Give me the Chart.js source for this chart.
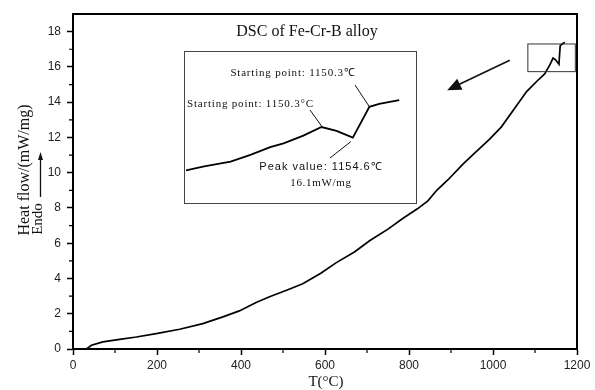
<!DOCTYPE html>
<html>
<head>
<meta charset="utf-8">
<script src="https://cdn.jsdelivr.net/npm/chart.js@4"></script>
<style>
  body { margin: 0; background: #fff; }
  #wrap { position: relative; width: 595px; height: 390px; }
  #inset {
    position: absolute; left: 184px; top: 51px;
    width: 233px; height: 153px;
    box-sizing: border-box; border: 1px solid #444; background: #fff;
  }
  #inset canvas { display: block; }
</style>
</head>
<body>
<div id="wrap">
  <canvas id="dscChart" width="595" height="390"></canvas>
  <div id="inset"><canvas id="insetChart" width="231" height="151"></canvas></div>
</div>
<script>
// main DSC curve
const temps = [32, 44, 71, 111, 151, 198, 254, 309, 357, 396, 436, 468, 510, 547, 590, 627, 670, 707, 750, 785, 820, 845, 866, 893, 929, 960, 992, 1020, 1050, 1080, 1105, 1123, 1135, 1143, 1149, 1157, 1160, 1165, 1171];
const heatFlow = [0, 0.21, 0.4, 0.55, 0.68, 0.87, 1.12, 1.44, 1.82, 2.16, 2.64, 2.96, 3.35, 3.7, 4.3, 4.9, 5.5, 6.15, 6.8, 7.4, 7.95, 8.4, 9.0, 9.6, 10.5, 11.2, 11.9, 12.6, 13.6, 14.6, 15.2, 15.6, 16.1, 16.5, 16.4, 16.15, 17.2, 17.3, 17.4];

// magnified part shown in the inset
const insetTemps = [1083.5, 1092.4, 1105.3, 1115, 1124.7, 1131.2, 1140.9, 1149.8, 1157.1, 1165.1, 1173.2, 1178, 1187.8];
const insetFlow = [16.07, 16.11, 16.16, 16.23, 16.31, 16.35, 16.43, 16.52, 16.48, 16.41, 16.73, 16.76, 16.80];

// zoom window (data units), also the inset's axis ranges
const zoomT = [1083, 1196];
const zoomY = [15.73, 17.3];

const xTicks = [0, 200, 400, 600, 800, 1000, 1200];
const yTicks = [0, 2, 4, 6, 8, 10, 12, 14, 16, 18];

const serif = '"Liberation Serif", "Times New Roman", serif';
const sans = '"Liberation Sans", Arial, sans-serif';

function arrowHead(ctx, x1, y1, x2, y2, len, half) {
  const a = Math.atan2(y2 - y1, x2 - x1);
  ctx.beginPath();
  ctx.moveTo(x2, y2);
  ctx.lineTo(x2 - len * Math.cos(a) + half * Math.sin(a), y2 - len * Math.sin(a) - half * Math.cos(a));
  ctx.lineTo(x2 - len * Math.cos(a) - half * Math.sin(a), y2 - len * Math.sin(a) + half * Math.cos(a));
  ctx.closePath();
  ctx.fill();
}

const mainDecor = {
  id: 'mainDecor',
  afterDraw(chart) {
    const { ctx, chartArea: a, scales: { x, y } } = chart;
    ctx.save();
    ctx.strokeStyle = '#000';
    ctx.fillStyle = '#000';

    // top + right frame
    ctx.lineWidth = 2;
    ctx.beginPath();
    ctx.moveTo(a.left, a.top);
    ctx.lineTo(a.right, a.top);
    ctx.lineTo(a.right, a.bottom);
    ctx.stroke();

    // minor ticks
    ctx.lineWidth = 1.2;
    ctx.beginPath();
    for (let v = 100; v < 1200; v += 200) {
      const px = x.getPixelForValue(v);
      ctx.moveTo(px, a.bottom);
      ctx.lineTo(px, a.bottom + 4);
    }
    for (let v = 1; v < 19; v += 2) {
      const py = y.getPixelForValue(v);
      ctx.moveTo(a.left, py);
      ctx.lineTo(a.left - 4, py);
    }
    ctx.stroke();

    // zoom window rectangle
    ctx.lineWidth = 1;
    ctx.strokeStyle = '#333';
    const rx = x.getPixelForValue(zoomT[0]), ry = y.getPixelForValue(zoomY[1]);
    ctx.strokeRect(rx, ry, x.getPixelForValue(zoomT[1]) - rx, y.getPixelForValue(zoomY[0]) - ry);

    // arrow pointing to the inset
    ctx.strokeStyle = '#111';
    ctx.fillStyle = '#111';
    ctx.lineWidth = 1.6;
    const ax1 = x.getPixelForValue(1040), ay1 = y.getPixelForValue(16.38);
    const ax2 = x.getPixelForValue(891), ay2 = y.getPixelForValue(14.67);
    ctx.beginPath();
    ctx.moveTo(ax1, ay1);
    ctx.lineTo(ax2 + 8, ay2 - 4);
    ctx.stroke();
    arrowHead(ctx, ax1, ay1, ax2, ay2, 14, 6);

    // titles
    ctx.fillStyle = '#111';
    ctx.textAlign = 'center';
    ctx.textBaseline = 'middle';
    ctx.font = '16px ' + serif;
    ctx.fillText('DSC of Fe-Cr-B alloy', 307, 32);
    ctx.font = '15px ' + serif;
    ctx.fillText('T(°C)', 326, 382);

    ctx.save();
    ctx.translate(25, 170);
    ctx.rotate(-Math.PI / 2);
    ctx.font = '16px ' + serif;
    ctx.fillText('Heat flow/(mW/mg)', 0, 0);
    ctx.restore();
    ctx.save();
    ctx.translate(38, 219);
    ctx.rotate(-Math.PI / 2);
    ctx.font = '15px ' + serif;
    ctx.fillText('Endo', 0, 0);
    ctx.restore();

    // endo arrow
    ctx.lineWidth = 1.3;
    ctx.beginPath();
    ctx.moveTo(40.5, 197);
    ctx.lineTo(40.5, 158);
    ctx.stroke();
    arrowHead(ctx, 40.5, 197, 40.5, 152, 8, 2.5);
    ctx.restore();
  }
};

new Chart(document.getElementById('dscChart'), {
  type: 'line',
  data: {
    datasets: [{
      data: temps.map((t, i) => ({ x: t, y: heatFlow[i] })),
      borderColor: '#000',
      borderWidth: 1.7,
      pointRadius: 0,
      tension: 0,
      fill: false
    }]
  },
  options: {
    responsive: false,
    animation: false,
    layout: { padding: { top: 14, right: 18, left: 0, bottom: 0 } },
    plugins: { legend: { display: false }, tooltip: { enabled: false } },
    scales: {
      x: {
        type: 'linear', min: 0, max: 1200,
        afterBuildTicks: s => { s.ticks = xTicks.map(v => ({ value: v })); },
        afterFit: s => { s.height = 41; },
        ticks: { color: '#222', font: { family: sans, size: 12 }, padding: 3, maxRotation: 0, callback: v => String(v) },
        grid: { drawOnChartArea: false, tickLength: 6, tickWidth: 1.5, color: '#000' },
        border: { color: '#000', width: 2 }
      },
      y: {
        type: 'linear', min: 0, max: 19,
        afterBuildTicks: s => { s.ticks = yTicks.map(v => ({ value: v })); },
        afterFit: s => { s.width = 73; },
        ticks: { color: '#222', font: { family: sans, size: 12 }, padding: 6, callback: v => String(v) },
        grid: { drawOnChartArea: false, tickLength: 6, tickWidth: 1.5, color: '#000' },
        border: { color: '#000', width: 2 }
      }
    }
  },
  plugins: [mainDecor]
});

function spacedText(ctx, text, x, y, spacing) {
  ctx.letterSpacing = spacing + 'px';
  ctx.fillText(text, x, y);
  ctx.letterSpacing = '0px';
}

const insetDecor = {
  id: 'insetDecor',
  afterDraw(chart) {
    const { ctx, scales: { x, y } } = chart;
    ctx.save();
    ctx.fillStyle = '#111';
    ctx.strokeStyle = '#111';
    ctx.textBaseline = 'middle';

    ctx.font = '11px ' + serif;
    ctx.textAlign = 'center';
    spacedText(ctx, 'Starting point: 1150.3℃', 108, 21, 0.8);
    ctx.textAlign = 'left';
    spacedText(ctx, 'Starting point: 1150.3°C', 2, 52, 0.8);
    ctx.textAlign = 'center';
    ctx.font = '11px ' + sans;
    spacedText(ctx, 'Peak value: 1154.6℃', 136, 115, 1);
    ctx.font = '11px ' + serif;
    spacedText(ctx, '16.1mW/mg', 136, 131, 0.7);

    // leader lines to the curve
    ctx.lineWidth = 1;
    const lead = (x0, y0, t, v, dx, dy) => {
      ctx.beginPath();
      ctx.moveTo(x0, y0);
      ctx.lineTo(x.getPixelForValue(t) + dx, y.getPixelForValue(v) + dy);
      ctx.stroke();
    };
    lead(170, 33, 1173.2, 16.73, 0, 0);
    lead(125, 58, 1149.8, 16.52, 0, -1);
    lead(145, 106, 1165.1, 16.41, -2, 4);
    ctx.restore();
  }
};

new Chart(document.getElementById('insetChart'), {
  type: 'line',
  data: {
    datasets: [{
      data: insetTemps.map((t, i) => ({ x: t, y: insetFlow[i] })),
      borderColor: '#000',
      borderWidth: 1.8,
      pointRadius: 0,
      tension: 0,
      fill: false
    }]
  },
  options: {
    responsive: false,
    animation: false,
    layout: { padding: 0 },
    plugins: { legend: { display: false }, tooltip: { enabled: false } },
    scales: {
      x: { type: 'linear', display: false, min: zoomT[0], max: zoomT[1] },
      y: { type: 'linear', display: false, min: zoomY[0], max: zoomY[1] }
    }
  },
  plugins: [insetDecor]
});
</script>
</body>
</html>
